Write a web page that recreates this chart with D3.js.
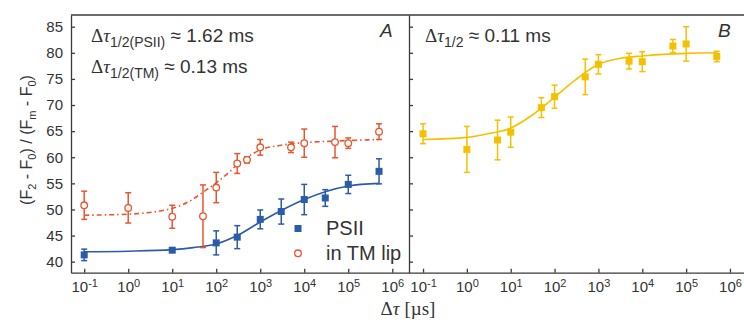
<!DOCTYPE html>
<html>
<head>
<meta charset="utf-8">
<script src="https://cdn.jsdelivr.net/npm/d3@7"></script>
<style>
    body { margin: 0; background: #fff; }
    svg { display: block; font-family: "Liberation Sans", Arial, sans-serif; }
    .axis path, .axis line { stroke: #3a3a3a; stroke-width: 1.3; }
    .axis text { fill: #333; font-size: 15px; font-family: "Liberation Sans", Arial, sans-serif; }
</style>
</head>
<body>
<div id="chart"></div>
<script>

// panel A, PSII (filled squares)
const psiiX = [0.1, 10, 100, 300, 1000, 3000, 10000, 30000, 100000, 500000];
const psiiY = [41.3, 42.2, 43.6, 44.7, 48.1, 49.6, 51.9, 52.2, 54.8, 57.3];
const psiiErr = [1.1, 0.4, 2.3, 2.2, 1.8, 2.4, 2.9, 1.6, 1.75, 2.4];

// panel A, PSII in TM lipids (open circles)
const tmX = [0.1, 1, 10, 50, 100, 300, 500, 1000, 5000, 10000, 50000, 100000, 500000];
const tmY = [50.8, 50.3, 48.6, 48.7, 54.2, 58.8, 59.5, 61.9, 61.9, 62.7, 62.9, 62.7, 64.9];
const tmErr = [2.7, 2.9, 2.2, 6.0, 2.9, 1.9, 0.6, 1.5, 1.0, 2.7, 3.0, 1.0, 1.5];

// panel B (yellow squares)
const bX = [0.1, 1, 5, 10, 50, 100, 500, 1000, 5000, 10000, 50000, 100000, 500000];
const bY = [64.5, 61.5, 63.3, 64.8, 69.5, 71.6, 75.4, 77.8, 78.4, 78.3, 81.3, 81.7, 79.3];
const bErr = [1.9, 4.4, 3.8, 2.9, 1.9, 2.2, 3.4, 1.85, 1.5, 1.9, 1.25, 3.3, 1.0];

// fitted curves
const psiiFitX = [0.1, 1, 10, 30, 100, 300, 1000, 3000, 10000, 30000, 100000, 500000];
const psiiFitY = [41.9, 42.0, 42.3, 42.7, 43.4, 45.0, 47.6, 49.8, 51.9, 53.4, 54.5, 55.0];
const tmFitX = [0.1, 1, 10, 30, 50, 100, 200, 300, 600, 1000, 3000, 10000, 50000, 500000];
const tmFitY = [48.9, 49.1, 50.2, 52.0, 53.3, 55.1, 57.2, 58.6, 60.4, 61.4, 62.3, 62.8, 63.1, 63.4];
const bFitX = [0.1, 1, 3, 10, 30, 100, 300, 1000, 3000, 10000, 30000, 100000, 500000];
const bFitY = [63.4, 63.8, 64.5, 65.6, 68.0, 71.5, 74.8, 77.8, 78.9, 79.4, 79.7, 79.9, 80.0];

const yTicks = [40, 45, 50, 55, 60, 65, 70, 75, 80, 85];
const xTicks = [1e-1, 1e0, 1e1, 1e2, 1e3, 1e4, 1e5, 1e6];

const blue = "#2b5ca8", red = "#e9552f", yellow = "#f5c000";

const width = 744, height = 320;
const plotTop = 15, plotBottom = 272.7;

const svg = d3.select("#chart").append("svg")
    .attr("width", width)
    .attr("height", height);

const yScale = d3.scaleLinear()
    .domain([37.89, 87.24])
    .range([plotBottom, plotTop]);

const xA = d3.scaleLog()
    .domain([Math.pow(10, -1.3), Math.pow(10, 6.38)])
    .range([71, 409]);

const xB = d3.scaleLog()
    .domain([Math.pow(10, -1.32), Math.pow(10, 6.32)])
    .range([409, 744]);

/* axes */
function powLabels(sel) {
    sel.selectAll(".tick text").each(function (d) {
        const t = d3.select(this);
        t.text(null);
        t.append("tspan").text("10");
        t.append("tspan")
            .attr("dy", "-0.45em")
            .style("font-size", "11px")
            .text(Math.round(Math.log10(d)));
    });
}

svg.append("g")
    .attr("class", "axis")
    .attr("transform", "translate(0," + plotBottom + ")")
    .call(d3.axisBottom(xA).tickValues(xTicks).tickSizeInner(-4).tickSizeOuter(0).tickPadding(9))
    .call(powLabels);

svg.append("g")
    .attr("class", "axis")
    .attr("transform", "translate(0," + plotBottom + ")")
    .call(d3.axisBottom(xB).tickValues(xTicks).tickSizeInner(-4).tickSizeOuter(0).tickPadding(9))
    .call(powLabels);

svg.append("g")
    .attr("class", "axis")
    .attr("transform", "translate(71,0)")
    .call(d3.axisLeft(yScale).tickValues(yTicks).tickSizeInner(-4).tickSizeOuter(0).tickPadding(8));

svg.append("g")
    .attr("class", "axis")
    .attr("transform", "translate(409,0)")
    .call(d3.axisLeft(yScale).tickValues(yTicks).tickSizeInner(-4).tickSizeOuter(0).tickFormat(""));

// frame top line
svg.append("line")
    .attr("x1", 71).attr("x2", width)
    .attr("y1", plotTop).attr("y2", plotTop)
    .attr("stroke", "#3a3a3a")
    .attr("stroke-width", 1.3);

/* fits */
function fitLine(xs, ys, color, xScale, dash) {
    const pts = xs.map(function (v, i) { return [v, ys[i]]; });
    svg.append("path")
        .attr("d", d3.line()
            .x(function (d) { return xScale(d[0]); })
            .y(function (d) { return yScale(d[1]); })
            .curve(d3.curveMonotoneX)(pts))
        .attr("fill", "none")
        .attr("stroke", color)
        .attr("stroke-width", 1.6)
        .attr("stroke-dasharray", dash || null);
}

fitLine(tmFitX, tmFitY, red, xA, "5,3,1.5,3");
fitLine(psiiFitX, psiiFitY, blue, xA);
fitLine(bFitX, bFitY, yellow, xB);

/* error bars */
function errBars(xs, ys, es, color, xScale) {
    const g = svg.append("g")
        .attr("stroke", color)
        .attr("stroke-width", 1.5);
    xs.forEach(function (x, i) {
        const cx = xScale(x);
        const y1 = yScale(ys[i] + es[i]), y2 = yScale(ys[i] - es[i]);
        g.append("line").attr("x1", cx).attr("x2", cx).attr("y1", y1).attr("y2", y2);
        g.append("line").attr("x1", cx - 3).attr("x2", cx + 3).attr("y1", y1).attr("y2", y1);
        g.append("line").attr("x1", cx - 3).attr("x2", cx + 3).attr("y1", y2).attr("y2", y2);
    });
}

errBars(tmX, tmY, tmErr, red, xA);
errBars(psiiX, psiiY, psiiErr, blue, xA);
errBars(bX, bY, bErr, yellow, xB);

/* markers */
svg.selectAll(".psii")
    .data(psiiX)
    .enter()
    .append("rect")
    .attr("class", "psii")
    .attr("x", function (d) { return xA(d) - 3.5; })
    .attr("y", function (d, i) { return yScale(psiiY[i]) - 3.5; })
    .attr("width", 7).attr("height", 7)
    .attr("fill", blue);

svg.selectAll(".tm")
    .data(tmX)
    .enter()
    .append("circle")
    .attr("class", "tm")
    .attr("cx", function (d) { return xA(d); })
    .attr("cy", function (d, i) { return yScale(tmY[i]); })
    .attr("r", 3.3)
    .attr("fill", "#fff")
    .attr("stroke", red)
    .attr("stroke-width", 1.3);

svg.selectAll(".bpt")
    .data(bX)
    .enter()
    .append("rect")
    .attr("class", "bpt")
    .attr("x", function (d) { return xB(d) - 3.5; })
    .attr("y", function (d, i) { return yScale(bY[i]) - 3.5; })
    .attr("width", 7).attr("height", 7)
    .attr("fill", yellow);

/* legend */
svg.append("rect")
    .attr("x", 294.5).attr("y", 225)
    .attr("width", 7).attr("height", 7)
    .attr("fill", blue);
svg.append("circle")
    .attr("cx", 298).attr("cy", 253.3).attr("r", 3.3)
    .attr("fill", "#fff").attr("stroke", red).attr("stroke-width", 1.3);
svg.append("text")
    .attr("x", 326).attr("y", 235)
    .attr("fill", "#333").style("font-size", "20px")
    .text("PSII");
svg.append("text")
    .attr("x", 326).attr("y", 260)
    .attr("fill", "#333").style("font-size", "20px")
    .text("in TM lip");

/* annotations */
function tauLabel(x, y, sub, rest) {
    const t = svg.append("text")
        .attr("x", x).attr("y", y)
        .attr("fill", "#333")
        .style("font-size", "19px");
    t.append("tspan").style("font-family", "Liberation Serif, serif").text("\u0394");
    t.append("tspan").style("font-family", "Liberation Serif, serif").style("font-style", "italic").text("\u03c4");
    t.append("tspan").attr("dy", 5).style("font-size", "14px").text(sub);
    t.append("tspan").attr("dy", -5).text(" \u2248 " + rest);
}

tauLabel(91, 42, "1/2(PSII)", "1.62 ms");
tauLabel(91, 73, "1/2(TM)", "0.13 ms");
tauLabel(425, 42, "1/2", "0.11 ms");

svg.append("text")
    .attr("x", 380).attr("y", 37)
    .attr("fill", "#333")
    .style("font-size", "19px").style("font-style", "italic")
    .text("A");
svg.append("text")
    .attr("x", 718).attr("y", 37)
    .attr("fill", "#333")
    .style("font-size", "19px").style("font-style", "italic")
    .text("B");

/* axis titles */
const xt = svg.append("text")
    .attr("x", 408).attr("y", 315)
    .attr("text-anchor", "middle")
    .attr("fill", "#333")
    .style("font-size", "19px")
    .style("font-family", "Liberation Serif, serif");
xt.append("tspan").text("\u0394");
xt.append("tspan").style("font-style", "italic").text("\u03c4");
xt.append("tspan").text(" [\u00b5s]");

const yt = svg.append("text")
    .attr("transform", "translate(32,140) rotate(-90)")
    .attr("text-anchor", "middle")
    .attr("fill", "#333")
    .style("font-size", "16px");
[["(F", 0], ["2", 4], [" - F", -4], ["0", 4], [") / (F", -4], ["m", 4], [" - F", -4], ["0", 4], [")", -4]]
    .forEach(function (p, i) {
        const s = yt.append("tspan").attr("dy", p[1]).text(p[0]);
        if (i % 2 === 1) s.style("font-size", "11px");
    });

</script>
</body>
</html>
